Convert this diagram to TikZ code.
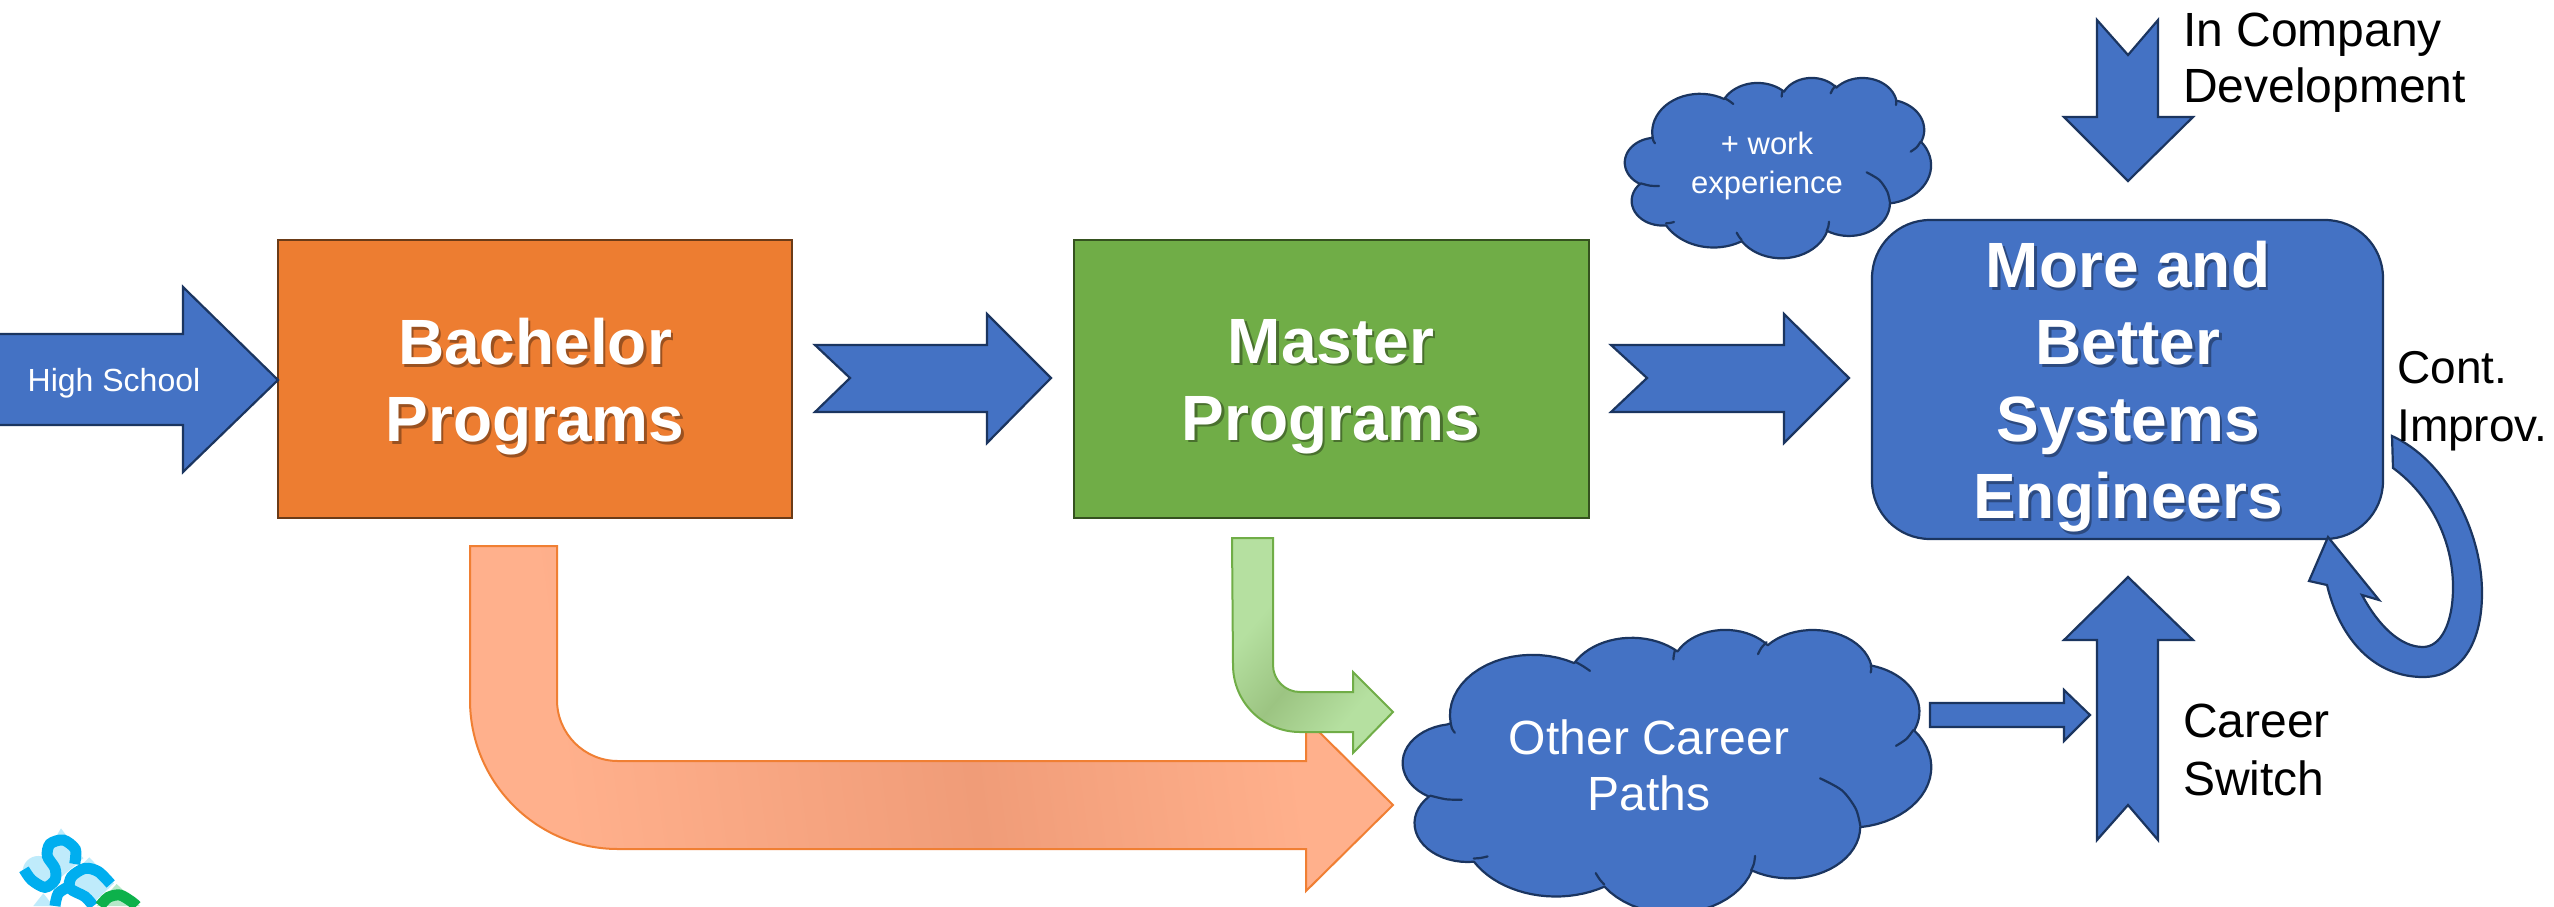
\documentclass[tikz,border=0pt]{standalone}
\usepackage{fontspec}
\setmainfont{Liberation Sans}
\definecolor{bluefill}{HTML}{4472C4}
\definecolor{blueline}{HTML}{1B3560}
\definecolor{orfill}{HTML}{ED7D31}
\definecolor{orline}{HTML}{6B3B17}
\definecolor{grfill}{HTML}{70AD47}
\definecolor{grline}{HTML}{35521F}
\definecolor{ororline}{HTML}{F07F33}
\definecolor{grgrline}{HTML}{70AD47}
\definecolor{logocyan}{HTML}{00AEEF}
\definecolor{logogreen}{HTML}{0DB14B}
\definecolor{orend}{HTML}{FFB08C}
\definecolor{ormid}{HTML}{F09C78}
\definecolor{grend}{HTML}{B5E0A0}
\definecolor{grmid}{HTML}{9CC482}
\pgfdeclarehorizontalshading{orgrad}{100bp}{color(0bp)=(orend); color(28bp)=(orend); color(52bp)=(ormid); color(71bp)=(orend); color(100bp)=(orend)}
\pgfdeclarehorizontalshading{grgrad}{100bp}{color(0bp)=(grend); color(34bp)=(grend); color(52bp)=(grmid); color(70bp)=(grend); color(100bp)=(grend)}
\newcommand{\shd}[2]{\leavevmode\rlap{\hspace{2.5pt}\raisebox{-2.5pt}{\textcolor{#1}{#2}}}#2}
% cloud outline: elliptical arcs, units of 100 in a 432 x 432 box
\xdef\curX{39.00}\xdef\curY{143.70}
\xdef\cloudpts{(157.9,262.0)}
\newcommand{\cloudarc}[4]{%
 \pgfmathsetmacro\tA{atan2(#1*sin(#3),#2*cos(#3))}%
 \pgfmathsetmacro\tBraw{atan2(#1*sin(#3+#4),#2*cos(#3+#4))}%
 \pgfmathsetmacro\tB{\tBraw<\tA ? \tBraw+360 : \tBraw}%
 \pgfmathsetmacro\cX{\curX-#1*cos(\tA)}%
 \pgfmathsetmacro\cY{\curY-#2*sin(\tA)}%
 \foreach \i in {1,...,20}{%
  \pgfmathsetmacro\tCur{\tA+(\tB-\tA)*\i/20}%
  \pgfmathsetmacro\nX{\cX+#1*cos(\tCur)}%
  \pgfmathsetmacro\nY{\cY+#2*sin(\tCur)}%
  \pgfmathsetmacro\zX{75+\nX*2.125}%
  \pgfmathsetmacro\zY{82+\nY*1.2523}%
  \xdef\cloudpts{\cloudpts -- (\zX,\zY)}%
  \xdef\curX{\nX}\xdef\curY{\nY}%
 }}
\cloudarc{67.53}{91.90}{-190.49}{123.78}
\cloudarc{53.33}{72.67}{-144.10}{89.95}
\cloudarc{43.65}{59.45}{-145.81}{99.72}
\cloudarc{48.57}{65.95}{-130.99}{117.24}
\cloudarc{53.33}{72.73}{-78.71}{109.03}
\cloudarc{67.75}{92.20}{-46.27}{130.27}
\cloudarc{57.85}{78.67}{0.625}{114.03}
\cloudarc{67.52}{92.15}{22.45}{115.17}
\cloudarc{77.20}{105.43}{66.24}{75.71}
\cloudarc{43.60}{59.18}{85.06}{146.74}
\cloudarc{43.45}{59.45}{113.17}{150.10}
\newcommand{\cloudbody}[3]{%
\begin{scope}[shift={#1},x=#2,y=#3]
\filldraw[blueshape,line join=round] \cloudpts -- cycle;
\draw[cloudtail] plot[smooth] coordinates {(158,262)(160,272)(165,280)};
\draw[cloudtail] plot[smooth] coordinates {(375,145)(388,153)(400,162)};
\draw[cloudtail] plot[smooth] coordinates {(548,122)(546,130)(545,140)};
\draw[cloudtail] plot[smooth] coordinates {(707,107)(698,118)(692,130)};
\draw[cloudtail] plot[smooth] coordinates {(888,152)(889,158)(888,165)};
\draw[cloudtail] plot[smooth] coordinates {(962,275)(950,292)(932,305)};
\draw[cloudtail] plot[smooth] coordinates {(870,458)(862,425)(838,390)(800,367)};
\draw[cloudtail] plot[smooth] coordinates {(680,543)(685,530)(687,515)};
\draw[cloudtail] plot[smooth] coordinates {(425,570)(417,560)(410,548)};
\draw[cloudtail] plot[smooth] coordinates {(198,520)(210,519)(222,516)};
\draw[cloudtail] plot[smooth] coordinates {(122,400)(150,407)(177,408)};
\end{scope}}
\tikzset{
 blueshape/.style={fill=bluefill,draw=blueline,line width=2.2pt,line join=miter},
 cloudtail/.style={draw=blueline,line width=2.2pt,line cap=round},
 boxtext/.style={inner sep=0pt,align=center,text=white,font=\fontsize{64}{77}\selectfont\bfseries},
 labeltext/.style={inner sep=0pt,align=left,anchor=base west,font=\fontsize{48}{56}\selectfont,text=black},
 cloudtext/.style={inner sep=0pt,align=center,text=white},
 logostroke/.style={line width=11pt,line cap=butt},
}
\begin{document}
\begin{tikzpicture}[x=1pt,y=-1pt]
\useasboundingbox (0,0) rectangle (2554,906);
\clip (0,0) rectangle (2554,906);
\fill[white] (0,0) rectangle (2554,906);
% logo
\begin{scope}[shift={(0,780)},x=0.3333pt,y=-0.3333pt]
\fill[logocyan!25] (183,145) -- (250,235) -- (185,290) -- (135,225) -- cycle;
\fill[logocyan!25] (115,275) circle[radius=15.7pt];
\fill[logocyan!25] (268,232) -- (342,310) -- (270,378) -- (195,305) -- cycle;
\fill[logocyan!25] (130,340) -- (160,378) -- (100,378) -- cycle;
\fill[logogreen!30] (350,312) -- (420,378) -- (290,378) -- cycle;
\draw[logostroke,logocyan] plot[smooth] coordinates {(224,252)(226,208)(190,180)(150,192)(142,228)(165,265)(165,300)(135,322)(95,300)(72,268)};
\draw[logostroke,logocyan] plot[smooth] coordinates {(332,312)(295,275)(255,265)(215,290)(210,325)(255,350)(280,378)};
\draw[logostroke,logocyan] plot[smooth] coordinates {(165,378)(175,340)(210,318)};
\draw[logostroke,logogreen] plot[smooth] coordinates {(300,378)(325,352)(360,345)(395,365)(410,378)};
\end{scope}
% boxes
\draw[fill=orfill,draw=orline,line width=2pt] (278,240) rectangle (792,518);
\draw[fill=grfill,draw=grline,line width=2pt] (1074,240) rectangle (1589,518);
\node[boxtext] (bach) at (535,388) {\shd{orfill!65!black}{Bachelor}\\\shd{orfill!65!black}{Programs}};
\node[boxtext] (mast) at (1331,388) {\shd{grfill!65!black}{Master}\\\shd{grfill!65!black}{Programs}};
% rounded box
\draw[blueshape,rounded corners=58pt] (1872,220) rectangle (2383,539);
\node[boxtext] (mbse) at (2128,388) {\shd{bluefill!65!black}{More and}\\\shd{bluefill!65!black}{Better}\\\shd{bluefill!65!black}{Systems}\\\shd{bluefill!65!black}{Engineers}};
% block arrows
\draw[blueshape] (-5,334) -- (183,334) -- (183,287) -- (278,380) -- (183,472) -- (183,425) -- (-5,425) -- cycle;
\node[cloudtext,font=\fontsize{32}{38}\selectfont] (hs) at (114,383) {High School};
\draw[blueshape] (815,345) -- (987,345) -- (987,314) -- (1051,378) -- (987,443) -- (987,412) -- (815,412) -- (850,378) -- cycle;
\draw[blueshape] (1611,345) -- (1784,345) -- (1784,314) -- (1849,378) -- (1784,443) -- (1784,412) -- (1611,412) -- (1647,378) -- cycle;
\draw[blueshape] (2097,20) -- (2128,55) -- (2158,20) -- (2158,117) -- (2193,117) -- (2128,181) -- (2064,117) -- (2097,117) -- cycle;
\draw[blueshape] (2128,577) -- (2193,640) -- (2158,640) -- (2158,840) -- (2128,805) -- (2097,840) -- (2097,640) -- (2064,640) -- cycle;
\draw[blueshape] (1930,703) -- (2064,703) -- (2064,690) -- (2090,715) -- (2064,741) -- (2064,727) -- (1930,727) -- cycle;
% gradient arrows
\path[draw=ororline,line width=2pt,shading=orgrad,shading angle=8] (470,546) -- (557,546) -- (557,700) arc[start angle=180,end angle=270,radius=61pt] -- (1306,761) -- (1306,719) -- (1393,805) -- (1306,891) -- (1306,849) -- (618,849) arc[start angle=270,end angle=180,x radius=148pt,y radius=149pt] -- cycle;
\path[draw=grgrline,line width=2pt,shading=grgrad,shading angle=-40] (1232,538) -- (1273,538) -- (1273,665) arc[start angle=180,end angle=270,radius=27pt] -- (1353,692) -- (1353,672) -- (1393,712) -- (1353,753) -- (1353,732) -- (1300,732) arc[start angle=270,end angle=180,radius=67pt] -- cycle;
% clouds
\cloudbody{(1359.9,586)}{0.5752pt}{-0.524pt}
\cloudbody{(1600,50)}{0.3333pt}{-0.3333pt}
\node[cloudtext,font=\fontsize{48}{56}\selectfont] (other) at (1649,765) {Other Career\\Paths};
\node[cloudtext,font=\fontsize{31}{39}\selectfont] (work) at (1767,166) {+ work\\experience};
% curved arrow
\draw[blueshape] (2392,436) .. controls (2445,460) and (2482,530) .. (2482,593) .. controls (2482,645) and (2460,677) .. (2423,677) .. controls (2375,677) and (2340,640) .. (2327,585)
 -- (2309,581) -- (2328,537) -- (2379,600) -- (2362,595)
 .. controls (2378,625) and (2400,647) .. (2423,647) .. controls (2440,647) and (2453,625) .. (2453,587) .. controls (2453,540) and (2430,495) .. (2393,468) -- cycle;
% labels
\node[labeltext] (comp) at (2183,46) {In Company};
\node[labeltext] (dev) at (2183,102) {Development};
\node[labeltext] (car) at (2183,737) {Career};
\node[labeltext] (sw) at (2183,795) {Switch};
\node[labeltext,font=\fontsize{46}{56}\selectfont] (cont) at (2397,383) {Cont.};
\node[labeltext,font=\fontsize{46}{56}\selectfont] (imp) at (2397,441) {Improv.};
\end{tikzpicture}
\end{document}
